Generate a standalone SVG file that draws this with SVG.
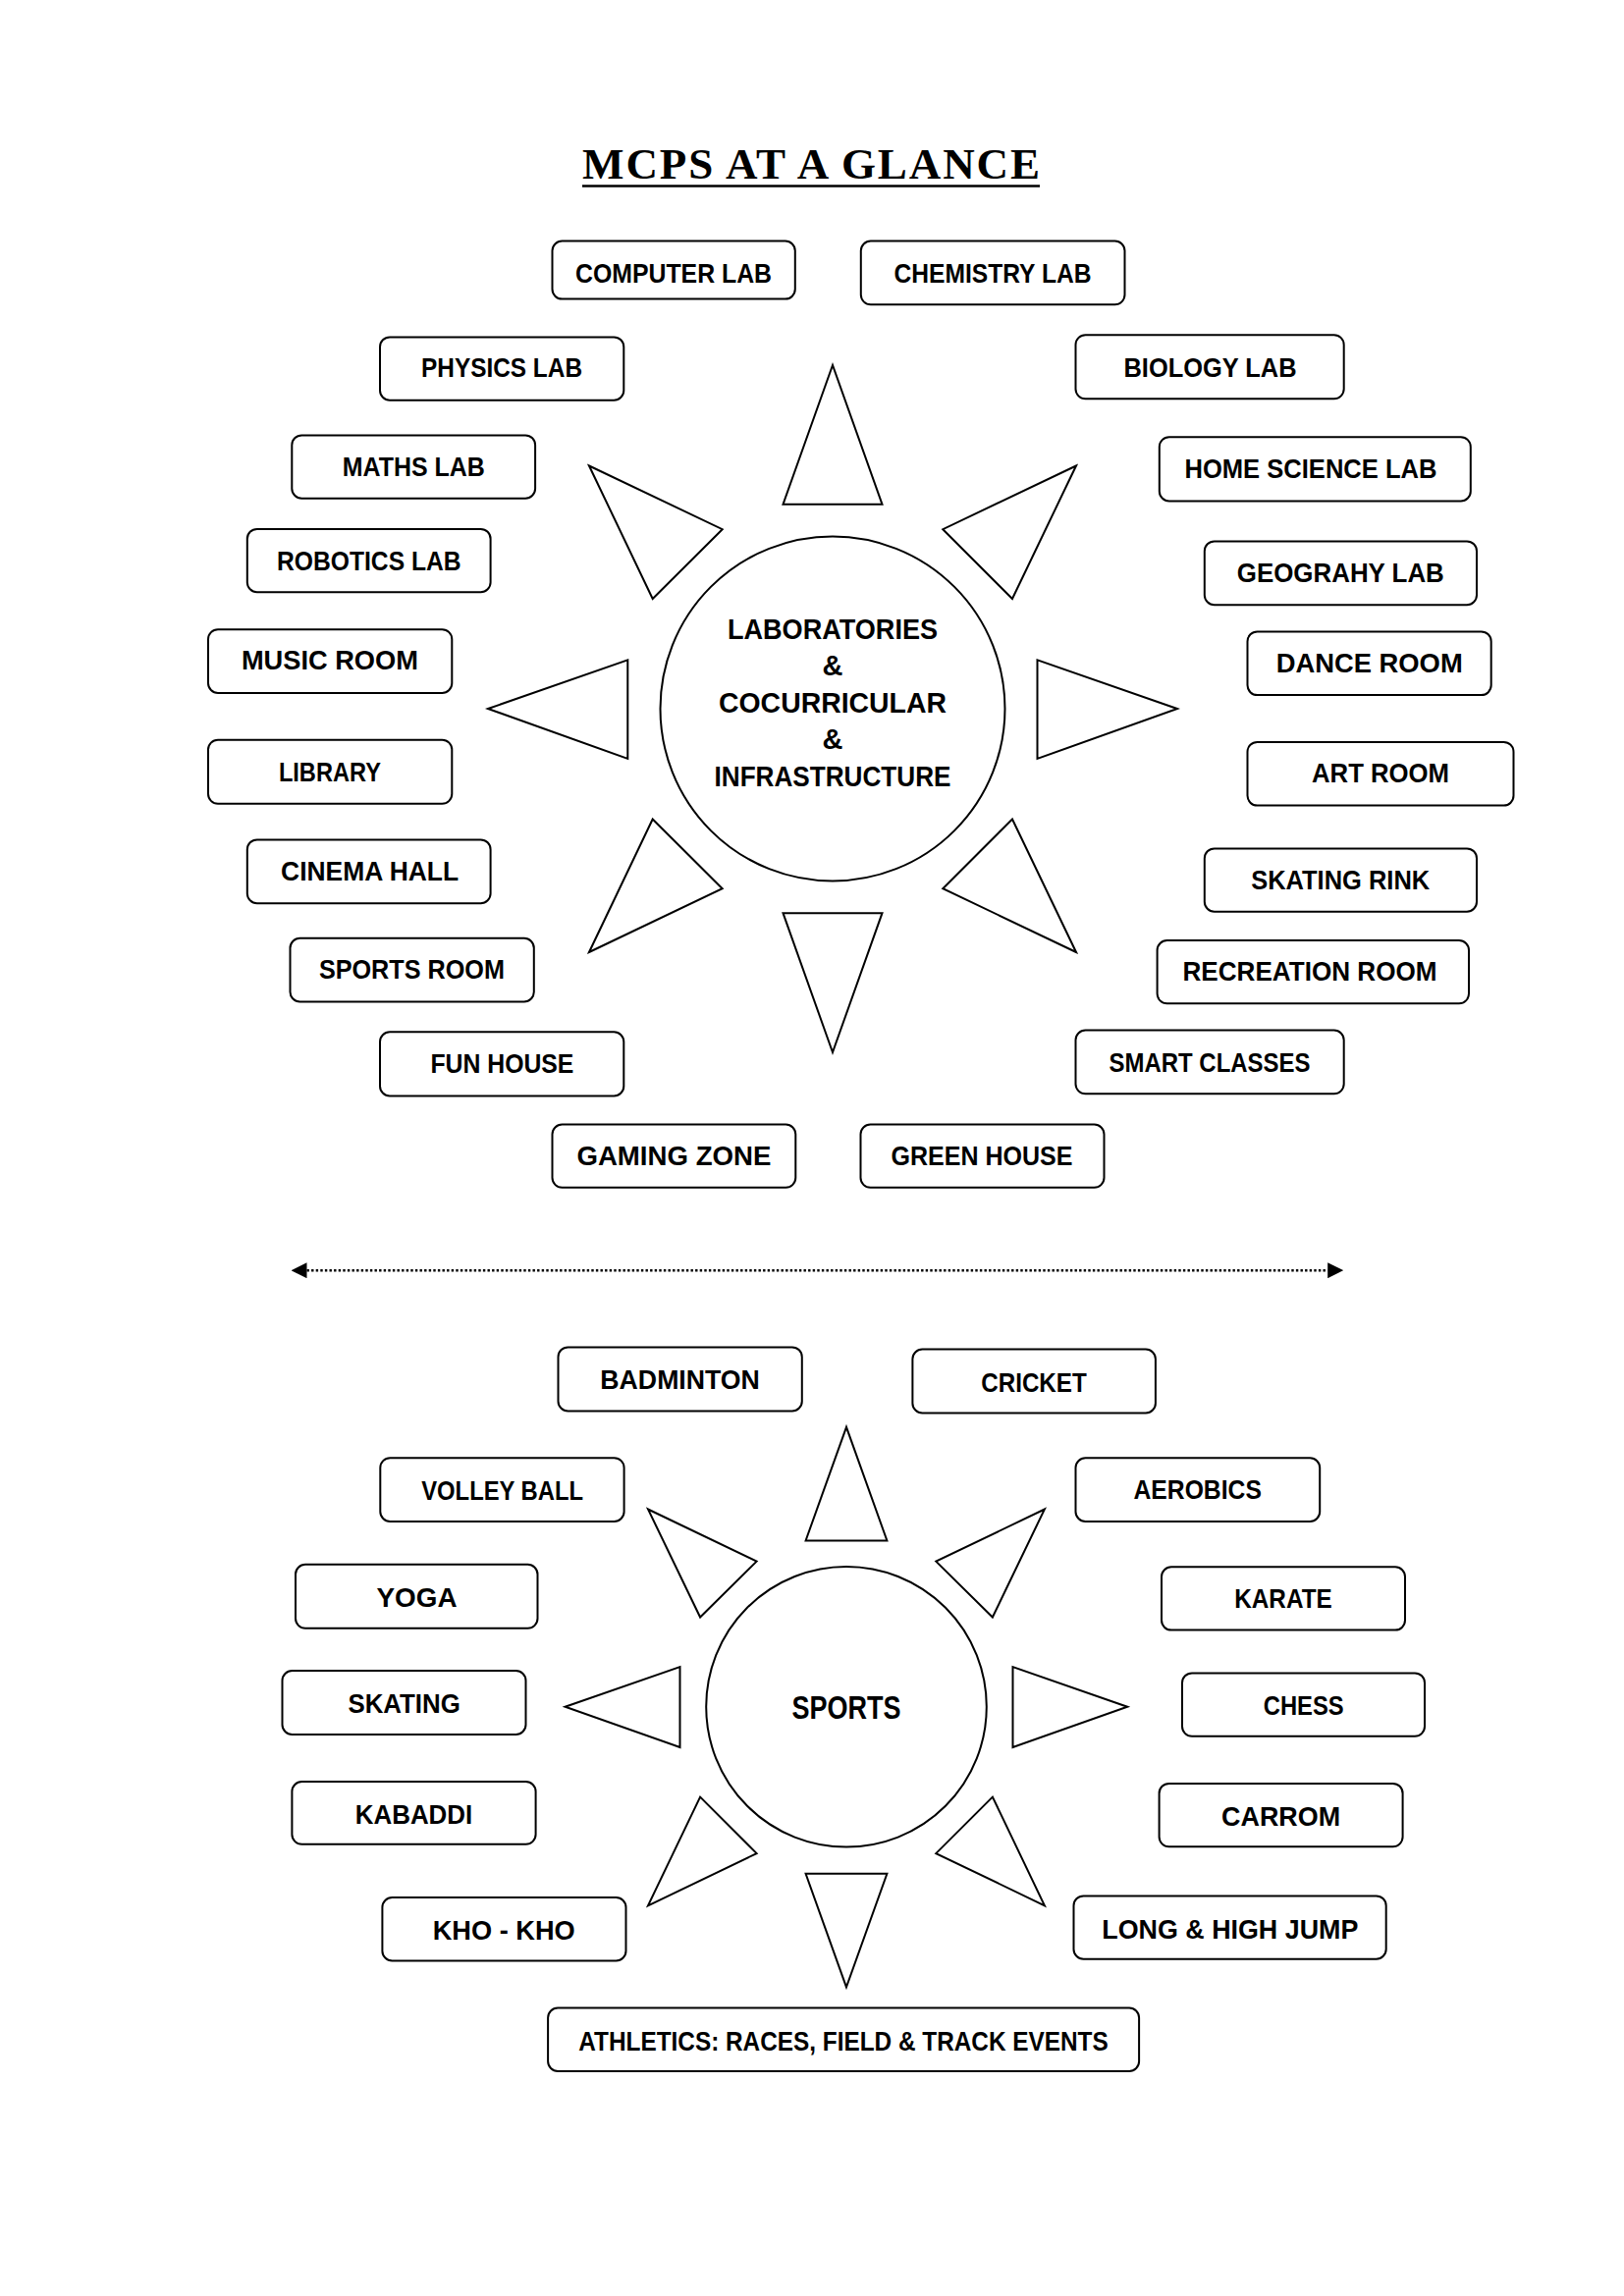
<svg xmlns="http://www.w3.org/2000/svg" width="1654" height="2339" viewBox="0 0 1654 2339">
<style>
.bg{fill:#ffffff}
.box{fill:#ffffff;stroke:#000000;stroke-width:2}
.lbl{font-family:"Liberation Sans",Arial,sans-serif;font-weight:bold;font-size:28px;fill:#000000;text-anchor:middle}
.ctr{font-family:"Liberation Sans",Arial,sans-serif;font-weight:bold;font-size:29px;fill:#000000;text-anchor:middle}
.ray{fill:#ffffff;stroke:#000000;stroke-width:2;stroke-linejoin:miter}
.hub{fill:#ffffff;stroke:#000000;stroke-width:2}
.title{font-family:"Liberation Serif","Times New Roman",serif;font-weight:bold;font-size:45px;fill:#000000}
.dots{stroke:#000000;stroke-width:2.6;stroke-dasharray:2.4 2.2;fill:none}
</style>
<defs>
<marker id="ah" viewBox="0 0 16 16" refX="0" refY="8" markerWidth="16" markerHeight="16" markerUnits="userSpaceOnUse" orient="auto-start-reverse">
<path d="M0,0 L16,8 L0,16 Z" fill="#000000"/>
</marker>
</defs>
<rect class="bg" x="0" y="0" width="1654" height="2339"/>

<g id="title">
<text class="title" x="593" y="181.7" textLength="466" lengthAdjust="spacing">MCPS AT A GLANCE</text>
<line x1="593" y1="189.5" x2="1059" y2="189.5" stroke="#000000" stroke-width="2.5"/>
</g>

<g id="rays-top">
<polygon class="ray" points="848,372 797.5,513.8 898.5,513.8"/>
<polygon class="ray" points="600,474.5 735.7,539.2 664.7,610"/>
<polygon class="ray" points="1096,474.5 960.3,539.2 1031,610"/>
<polygon class="ray" points="497,722 639.3,672.4 639.3,772.9"/>
<polygon class="ray" points="1199,722 1056.5,672.4 1056.5,772.9"/>
<polygon class="ray" points="600,970 735.7,905.2 664.7,834.5"/>
<polygon class="ray" points="1096,970 960.3,905.2 1031,834.5"/>
<polygon class="ray" points="848,1072 797.5,930.2 898.5,930.2"/>
</g>

<g id="hub-top">
<circle class="hub" cx="848" cy="722" r="175.5"/>
<text class="ctr" x="848" y="651" textLength="214" lengthAdjust="spacingAndGlyphs">LABORATORIES</text>
<text class="ctr" x="848" y="687.5">&amp;</text>
<text class="ctr" x="848" y="726" textLength="232" lengthAdjust="spacingAndGlyphs">COCURRICULAR</text>
<text class="ctr" x="848" y="762.5">&amp;</text>
<text class="ctr" x="848" y="801" textLength="241" lengthAdjust="spacingAndGlyphs">INFRASTRUCTURE</text>
</g>

<g id="computer-lab"><rect class="box" x="562.5" y="245.6" width="247.3" height="59" rx="10"/><text class="lbl" x="686" y="288" textLength="200" lengthAdjust="spacingAndGlyphs">COMPUTER LAB</text></g>
<g id="chemistry-lab"><rect class="box" x="876.8" y="245.5" width="268.7" height="64.8" rx="10"/><text class="lbl" x="1011" y="287.5" textLength="201" lengthAdjust="spacingAndGlyphs">CHEMISTRY LAB</text></g>
<g id="physics-lab"><rect class="box" x="387" y="343.4" width="248.3" height="64.3" rx="10"/><text class="lbl" x="511" y="384" textLength="164" lengthAdjust="spacingAndGlyphs">PHYSICS LAB</text></g>
<g id="biology-lab"><rect class="box" x="1095.5" y="341.2" width="273.2" height="65.1" rx="10"/><text class="lbl" x="1232.5" y="384" textLength="176" lengthAdjust="spacingAndGlyphs">BIOLOGY LAB</text></g>
<g id="maths-lab"><rect class="box" x="297.3" y="443.4" width="247.8" height="64.3" rx="10"/><text class="lbl" x="421.3" y="484.5" textLength="145" lengthAdjust="spacingAndGlyphs">MATHS LAB</text></g>
<g id="home-science-lab"><rect class="box" x="1180.8" y="445.2" width="317" height="65.2" rx="10"/><text class="lbl" x="1335" y="486.7" textLength="257" lengthAdjust="spacingAndGlyphs">HOME SCIENCE LAB</text></g>
<g id="robotics-lab"><rect class="box" x="251.8" y="538.9" width="247.8" height="64.3" rx="10"/><text class="lbl" x="375.8" y="581.3" textLength="187.5" lengthAdjust="spacingAndGlyphs">ROBOTICS LAB</text></g>
<g id="geograhy-lab"><rect class="box" x="1226.8" y="551.4" width="277.2" height="64.8" rx="10"/><text class="lbl" x="1365.3" y="593" textLength="211" lengthAdjust="spacingAndGlyphs">GEOGRAHY LAB</text></g>
<g id="music-room"><rect class="box" x="212" y="641.2" width="248.3" height="64.7" rx="10"/><text class="lbl" x="335.9" y="682.2" textLength="180" lengthAdjust="spacingAndGlyphs">MUSIC ROOM</text></g>
<g id="dance-room"><rect class="box" x="1270.5" y="643.4" width="248.2" height="64.7" rx="10"/><text class="lbl" x="1394.7" y="684.5" textLength="190" lengthAdjust="spacingAndGlyphs">DANCE ROOM</text></g>
<g id="library"><rect class="box" x="212" y="753.7" width="248.3" height="65.1" rx="10"/><text class="lbl" x="335.9" y="795.6" textLength="104" lengthAdjust="spacingAndGlyphs">LIBRARY</text></g>
<g id="art-room"><rect class="box" x="1270.5" y="755.9" width="271" height="64.7" rx="10"/><text class="lbl" x="1406" y="797" textLength="140" lengthAdjust="spacingAndGlyphs">ART ROOM</text></g>
<g id="cinema-hall"><rect class="box" x="251.8" y="855.4" width="247.8" height="64.8" rx="10"/><text class="lbl" x="376.6" y="897" textLength="181" lengthAdjust="spacingAndGlyphs">CINEMA HALL</text></g>
<g id="skating-rink"><rect class="box" x="1226.8" y="864.4" width="277.2" height="64.3" rx="10"/><text class="lbl" x="1365.2" y="906.3" textLength="182" lengthAdjust="spacingAndGlyphs">SKATING RINK</text></g>
<g id="sports-room"><rect class="box" x="295.5" y="955.8" width="248.3" height="64.7" rx="10"/><text class="lbl" x="419.4" y="997.3" textLength="189" lengthAdjust="spacingAndGlyphs">SPORTS ROOM</text></g>
<g id="recreation-room"><rect class="box" x="1178.6" y="958" width="317.4" height="64.3" rx="10"/><text class="lbl" x="1334" y="999.1" textLength="259" lengthAdjust="spacingAndGlyphs">RECREATION ROOM</text></g>
<g id="fun-house"><rect class="box" x="387" y="1051.3" width="248.3" height="65.2" rx="10"/><text class="lbl" x="511.4" y="1093.3" textLength="146" lengthAdjust="spacingAndGlyphs">FUN HOUSE</text></g>
<g id="smart-classes"><rect class="box" x="1095.5" y="1049.6" width="273.2" height="64.7" rx="10"/><text class="lbl" x="1232" y="1092" textLength="205" lengthAdjust="spacingAndGlyphs">SMART CLASSES</text></g>
<g id="gaming-zone"><rect class="box" x="562.5" y="1145.5" width="247.8" height="64.3" rx="10"/><text class="lbl" x="686.4" y="1187" textLength="198" lengthAdjust="spacingAndGlyphs">GAMING ZONE</text></g>
<g id="green-house"><rect class="box" x="876.5" y="1145.5" width="248" height="64.3" rx="10"/><text class="lbl" x="1000" y="1187" textLength="185" lengthAdjust="spacingAndGlyphs">GREEN HOUSE</text></g>

<g id="connectors">
<line class="dots" x1="312.5" y1="1294.2" x2="1352.2" y2="1294.2" marker-start="url(#ah)" marker-end="url(#ah)"/>
</g>

<g id="rays-bottom">
<polygon class="ray" points="862,1453.8 820.6,1569.4 903.4,1569.4"/>
<polygon class="ray" points="660,1537.5 770.6,1590.6 713.1,1647.5"/>
<polygon class="ray" points="1063.9,1537.5 953.3,1590.6 1010.9,1647.5"/>
<polygon class="ray" points="575.6,1738.8 692.5,1698.1 692.5,1780"/>
<polygon class="ray" points="1148.2,1738.8 1031.5,1698.1 1031.5,1780"/>
<polygon class="ray" points="660,1941.3 770.6,1888.1 713.1,1830.6"/>
<polygon class="ray" points="1063.9,1941.3 953.3,1888.1 1010.9,1830.6"/>
<polygon class="ray" points="862,2024.4 820.6,1908.8 903.4,1908.8"/>
</g>

<g id="hub-sports">
<circle class="hub" cx="862" cy="1738.8" r="142.8"/>
<text class="ctr" x="862" y="1750.8" style="font-size:33px" textLength="111" lengthAdjust="spacingAndGlyphs">SPORTS</text>
</g>

<g id="badminton"><rect class="box" x="568.5" y="1372.4" width="248.3" height="65" rx="10"/><text class="lbl" x="692.6" y="1415" textLength="162.5" lengthAdjust="spacingAndGlyphs">BADMINTON</text></g>
<g id="cricket"><rect class="box" x="929.4" y="1374.5" width="247.5" height="65" rx="10"/><text class="lbl" x="1053" y="1418" textLength="107.5" lengthAdjust="spacingAndGlyphs">CRICKET</text></g>
<g id="volley-ball"><rect class="box" x="387.3" y="1485.2" width="248.3" height="64.8" rx="10"/><text class="lbl" x="511.6" y="1527.5" textLength="164.7" lengthAdjust="spacingAndGlyphs">VOLLEY BALL</text></g>
<g id="aerobics"><rect class="box" x="1095.5" y="1485.3" width="248.7" height="64.7" rx="10"/><text class="lbl" x="1219.7" y="1527.3" textLength="130.4" lengthAdjust="spacingAndGlyphs">AEROBICS</text></g>
<g id="yoga"><rect class="box" x="301" y="1593.8" width="246.5" height="65" rx="10"/><text class="lbl" x="424.5" y="1636.9" textLength="82" lengthAdjust="spacingAndGlyphs">YOGA</text></g>
<g id="karate"><rect class="box" x="1183" y="1596.3" width="248" height="64.3" rx="10"/><text class="lbl" x="1307" y="1638.3" textLength="99.5" lengthAdjust="spacingAndGlyphs">KARATE</text></g>
<g id="skating"><rect class="box" x="287.5" y="1702" width="248" height="65" rx="10"/><text class="lbl" x="411.6" y="1745" textLength="114.4" lengthAdjust="spacingAndGlyphs">SKATING</text></g>
<g id="chess"><rect class="box" x="1204" y="1704.4" width="247" height="64.4" rx="10"/><text class="lbl" x="1327.7" y="1746.8" textLength="82" lengthAdjust="spacingAndGlyphs">CHESS</text></g>
<g id="kabaddi"><rect class="box" x="297.4" y="1815" width="248.2" height="63.8" rx="10"/><text class="lbl" x="421.5" y="1857.5" textLength="119.4" lengthAdjust="spacingAndGlyphs">KABADDI</text></g>
<g id="carrom"><rect class="box" x="1180.6" y="1816.9" width="248" height="64.4" rx="10"/><text class="lbl" x="1304.6" y="1859.8" textLength="121" lengthAdjust="spacingAndGlyphs">CARROM</text></g>
<g id="kho-kho"><rect class="box" x="389.4" y="1933.1" width="248.1" height="64.4" rx="10"/><text class="lbl" x="513.2" y="1976.2" textLength="145" lengthAdjust="spacingAndGlyphs">KHO - KHO</text></g>
<g id="long-high-jump"><rect class="box" x="1093.5" y="1931.4" width="318.2" height="64.3" rx="10"/><text class="lbl" x="1252.8" y="1974.6" textLength="261" lengthAdjust="spacingAndGlyphs">LONG &amp; HIGH JUMP</text></g>
<g id="athletics"><rect class="box" x="558.1" y="2045.6" width="602" height="64.4" rx="10"/><text class="lbl" x="859" y="2088.7" textLength="539.4" lengthAdjust="spacingAndGlyphs">ATHLETICS: RACES, FIELD &amp; TRACK EVENTS</text></g>
</svg>
